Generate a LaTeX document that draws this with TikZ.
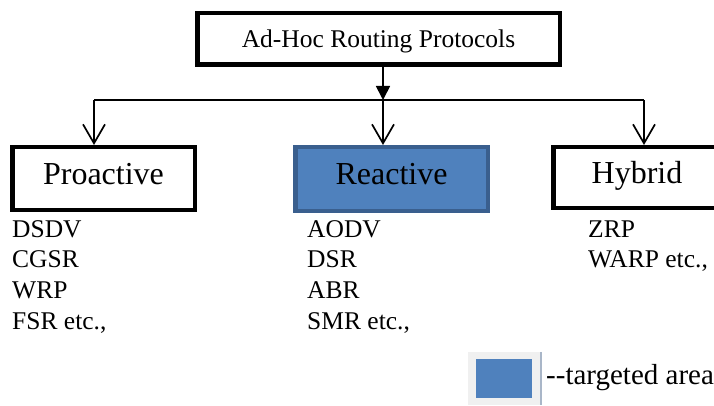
\documentclass[tikz,border=0pt]{standalone}
\usepackage{fontspec}
\setmainfont{Liberation Serif}
\usetikzlibrary{arrows.meta}
\definecolor{accentblue}{HTML}{4F81BD}
\definecolor{accentedge}{HTML}{3A5F8E}
\definecolor{legendgray}{HTML}{F0F0F0}
\definecolor{legendshade}{HTML}{A9B6C8}

\begin{document}
\begin{tikzpicture}[x=1pt,y=-1pt,
  conn/.style={line width=1.7pt},
  fillarrow/.style={conn, -{Triangle[length=14pt,width=14pt]}},
  openarrow/.style={conn, -{Straight Barb[length=19pt,width=22pt]}},
  rootbox/.style={draw, line width=4.5pt, inner sep=0pt, outer sep=2.25pt,
    font=\fontsize{25.5}{30}\selectfont, text height=20pt, text depth=2pt},
  catbox/.style={draw, line width=4.5pt, inner sep=0pt, outer sep=2.25pt,
    font=\fontsize{32}{38}\selectfont, text height=19pt, text depth=8pt},
  listitem/.style={anchor=base west, inner sep=0pt, font=\fontsize{25.5}{30}\selectfont}
]
\useasboundingbox (0,0) rectangle (714,406);
\clip (0,0) rectangle (714,406);

% root of the classification
\node[rootbox, minimum width=362.5pt, minimum height=51.5pt] (root) at (378.5,39) {Ad-Hoc Routing Protocols};

% the three protocol families
\node[catbox, minimum width=182.5pt, minimum height=62.5pt] (pro) at (103.5,178.5) {Proactive};
\node[catbox, draw=accentedge, fill=accentblue, minimum width=192.5pt, minimum height=63.5pt] (rea) at (391.5,179) {Reactive};
\node[catbox, minimum width=167.5pt, minimum height=60.5pt] (hyb) at (637,177.5) {Hybrid};

% branching connectors
\coordinate (jp) at (94,100);
\coordinate (jr) at (383,100);
\coordinate (jh) at (644,100);
\draw[fillarrow] (root.south -| jr) -- (jr);
\draw[conn] (jp) -- (jh);
\draw[openarrow] (jp) -- (jp |- pro.north);
\draw[openarrow] (jr) -- (jr |- rea.north);
\draw[openarrow] (jh) -- (jh |- hyb.north);

% example protocols under each family
\foreach \t [count=\i] in {DSDV, CGSR, WRP, {FSR etc.,}}
  \node[listitem] (p\i) at (12, 237+30.7*\i-30.7) {\t};
\foreach \t [count=\i] in {AODV, DSR, ABR, {SMR etc.,}}
  \node[listitem] (r\i) at (307, 237+30.7*\i-30.7) {\t};
\foreach \t [count=\i] in {ZRP, {WARP etc.,}}
  \node[listitem] (h\i) at (588, 237+30.7*\i-30.7) {\t};

% legend
\node[fill=legendgray, inner sep=0pt, minimum width=72pt, minimum height=53pt] (keybg) at (504,378.5) {};
\draw[legendshade, line width=1.5pt] ([xshift=1pt]keybg.north east) -- ([xshift=1pt]keybg.south east);
\node[fill=accentblue, inner sep=0pt, minimum width=56pt, minimum height=39pt] (keyswatch) at (504,378.5) {};
\node[anchor=base west, inner sep=0pt, font=\fontsize{29}{34}\selectfont] (keytext) at (546,384) {-\kern0pt-targeted area};
\end{tikzpicture}
\end{document}
